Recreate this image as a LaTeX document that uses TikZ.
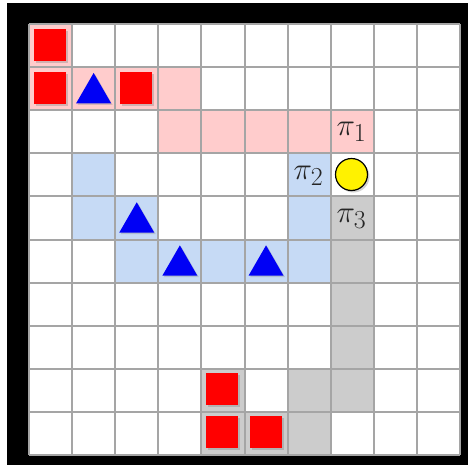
\documentclass[tikz,border=0pt]{standalone}
\usetikzlibrary{shadows,shapes.geometric}
\definecolor{pathpink}{RGB}{255,204,204}
\definecolor{pathblue}{RGB}{198,218,245}
\definecolor{pathgray}{RGB}{204,204,204}
\definecolor{gridgray}{RGB}{165,165,165}
\definecolor{tri}{RGB}{0,0,245}
\tikzset{
  cellfill/.style={fill=#1},
  redbox/.style={rectangle, fill=red, minimum size=32pt, inner sep=0pt, outer sep=0pt,
    drop shadow={shadow xshift=2pt, shadow yshift=-2pt, opacity=0.35}},
  bluetri/.style={regular polygon, regular polygon sides=3, fill=tri, minimum size=40.4pt,
    inner sep=0pt, outer sep=0pt, drop shadow={shadow xshift=1.5pt, shadow yshift=-1.5pt, opacity=0.3}},
  agent/.style={circle, fill=yellow, draw=black, line width=1.2pt, minimum size=32pt, inner sep=0pt,
    drop shadow={shadow xshift=2pt, shadow yshift=-2pt, opacity=0.35}},
  pilabel/.style={inner sep=0pt, text=black!85, font=\Huge},
  gridline/.style={draw=gridgray, line width=2pt}
}
\newcommand{\pilab}[1]{\scalebox{1.25}{$\pi_{#1}$}}
\begin{document}
\begin{tikzpicture}[x=1pt,y=-1pt]
\useasboundingbox (0,0) rectangle (468,474);
\fill[white] (0,0) rectangle (468,474);
\fill[black] (7,3) rectangle (468,465);
\fill[white] (29,24) rectangle (460,455);
\def\s{43.1}
% path pi1 (pink)
\foreach \r/\c in {0/0,1/0,1/1,1/2,1/3,2/3,2/4,2/5,2/6,2/7}
  \fill[cellfill=pathpink] ({29+\s*\c},{24+\s*\r}) rectangle +(\s,\s);
% path pi2 (blue)
\foreach \r/\c in {3/1,4/1,4/2,5/2,5/3,5/4,5/5,5/6,4/6,3/6}
  \fill[cellfill=pathblue] ({29+\s*\c},{24+\s*\r}) rectangle +(\s,\s);
% path pi3 (gray)
\foreach \r/\c in {4/7,5/7,6/7,7/7,8/7,8/6,9/6,9/5,9/4,8/4}
  \fill[cellfill=pathgray] ({29+\s*\c},{24+\s*\r}) rectangle +(\s,\s);
% grid
\foreach \i in {0,...,10} {
  \draw[gridline] ({29+\s*\i},24) -- ({29+\s*\i},455);
  \draw[gridline] (29,{24+\s*\i}) -- (460,{24+\s*\i});
}
% red squares
\foreach \r/\c/\n in {0/0/a,1/0/b,1/2/c,8/4/d,9/4/e,9/5/f}
  \node[redbox] (red\n) at ({29+\s*\c+\s/2-0.5},{24+\s*\r+\s/2-1}) {};
% blue triangles
\foreach \r/\c/\n in {1/1/a,4/2/b,5/3/c,5/5/d}
  \node[bluetri] (tri\n) at ({29+\s*\c+\s/2},{24+\s*\r+\s/2+4.5}) {};
% agent
\node[agent] (agent) at (351.5,174.5) {};
% labels
\node[pilabel] (pi1) at (351.5,132) {\pilab{1}};
\node[pilabel] (pi2) at (308.5,176) {\pilab{2}};
\node[pilabel] (pi3) at (351.5,218.5) {\pilab{3}};
\end{tikzpicture}
\end{document}
